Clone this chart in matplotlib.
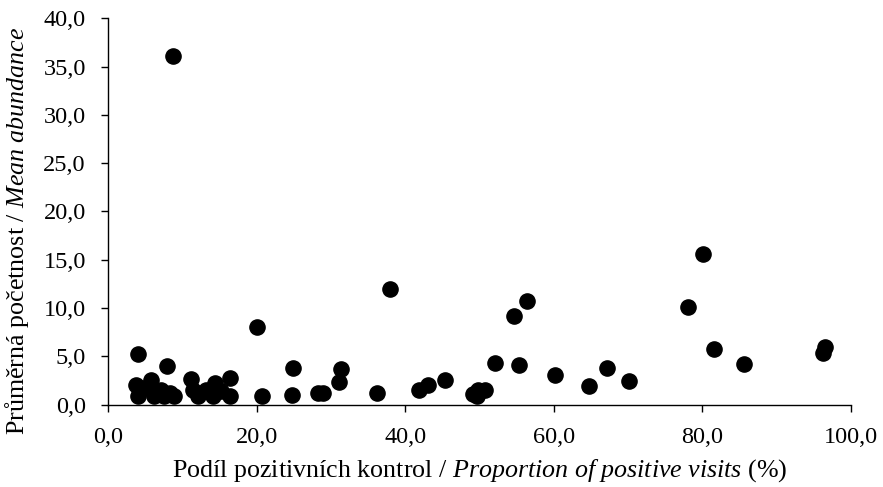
import matplotlib
matplotlib.use('Agg')
import matplotlib.pyplot as plt
from matplotlib.ticker import FuncFormatter, MultipleLocator

# proportion of positive visits (%) and mean abundance
proportion = [
    8.8, 4.0, 7.9, 20.0, 38.0, 54.7, 56.4, 52.1, 55.3, 60.1,
    64.8, 67.1, 70.1, 78.1, 80.1, 81.5, 85.6, 96.2, 96.5,
    24.9, 24.8, 28.3, 28.9, 31.1, 31.4, 36.2, 41.8, 43.1, 45.4,
    49.1, 49.6, 49.8, 50.7, 20.7,
    3.8, 4.0, 4.9, 5.8, 6.2, 7.1, 8.3, 8.9, 6.7, 7.6,
    11.2, 11.4, 12.1, 13.2, 14.1, 14.4, 16.4, 16.4, 15.2,
]
abundance = [
    36.1, 5.2, 4.0, 8.0, 12.0, 9.2, 10.7, 4.3, 4.1, 3.1,
    1.9, 3.8, 2.4, 10.1, 15.6, 5.8, 4.2, 5.3, 6.0,
    3.8, 1.0, 1.2, 1.2, 2.3, 3.7, 1.2, 1.5, 2.0, 2.5,
    1.1, 0.9, 1.5, 1.5, 0.9,
    2.0, 0.9, 1.7, 2.5, 0.9, 1.5, 1.2, 0.9, 1.2, 0.9,
    2.6, 1.5, 0.9, 1.5, 0.9, 2.2, 2.7, 0.9, 1.4,
]

plt.rcParams['font.family'] = 'Liberation Serif'
plt.rcParams['mathtext.fontset'] = 'custom'
plt.rcParams['mathtext.rm'] = 'Liberation Serif'
plt.rcParams['mathtext.it'] = 'Liberation Serif:italic'

fig = plt.figure(figsize=(8.83, 4.87), dpi=100)
ax = fig.add_axes([0.1223, 0.1694, 0.8415, 0.793])

ax.scatter(proportion, abundance, s=120, color='black', zorder=3, clip_on=False)

ax.set_xlim(0, 100)
ax.set_ylim(0, 40)
ax.xaxis.set_major_locator(MultipleLocator(20))
ax.yaxis.set_major_locator(MultipleLocator(5))
comma = FuncFormatter(lambda v, _: f'{v:.1f}'.replace('.', ','))
ax.xaxis.set_major_formatter(comma)
ax.yaxis.set_major_formatter(comma)

for side in ['top', 'right']:
    ax.spines[side].set_visible(False)
for side in ['left', 'bottom']:
    ax.spines[side].set_linewidth(1.0)
ax.tick_params(direction='out', length=5, width=1, labelsize=17.5, pad=11)

ax.set_xlabel(r'Podíl pozitivních kontrol / $\mathit{Proportion\ of\ positive\ visits}$ (%)',
              fontsize=18.7)
ax.set_ylabel(r'Průměrná početnost / $\mathit{Mean\ abundance}$', fontsize=18.7)
ax.xaxis.set_label_coords(0.5, -0.136)
ax.yaxis.set_label_coords(-0.104, 0.451)

plt.savefig('out.png', dpi=100)
plt.close(fig)
